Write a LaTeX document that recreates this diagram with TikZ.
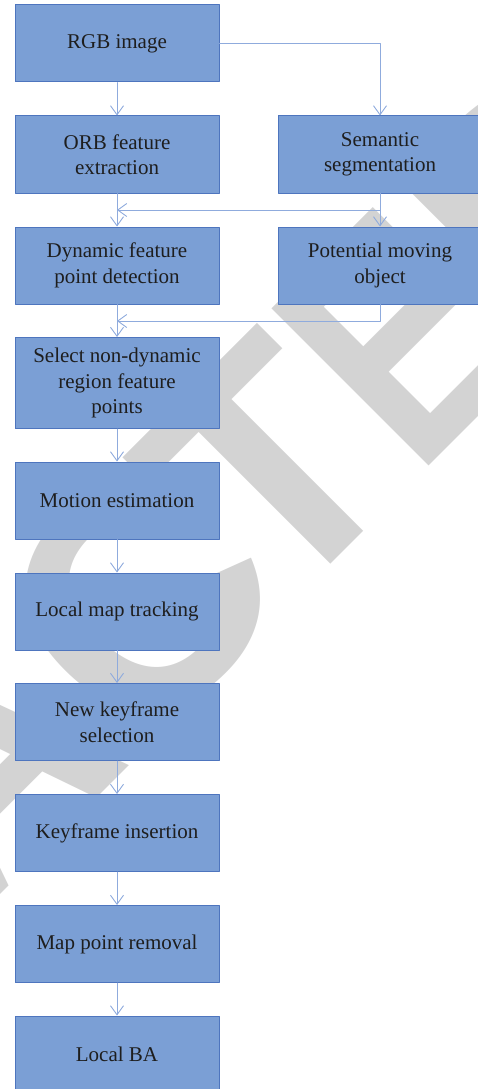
\documentclass[tikz,border=0pt]{standalone}
\usepackage{graphicx}
\usepackage{fontspec}
\setmainfont{Liberation Serif}
\newfontfamily\wmfont[Kerning=Off]{Liberation Sans}
\usetikzlibrary{arrows.meta}

\definecolor{boxfill}{RGB}{123,159,213}
\definecolor{boxline}{RGB}{78,117,190}
\definecolor{flowline}{RGB}{143,171,221}
\definecolor{wmgray}{RGB}{211,211,211}
\definecolor{txt}{RGB}{30,30,30}

\tikzset{
	stepbox/.style={draw=boxline, fill=boxfill, line width=1pt, minimum width=204pt,
		minimum height=77pt, inner sep=0pt, align=center, text=txt,
		font=\fontsize{21}{25.5}\selectfont},
	flow/.style={draw=flowline, line width=0.9pt,
		-{Straight Barb[length=9pt, width=13pt]}},
}

\begin{document}
\begin{tikzpicture}[x=1pt, y=1pt, line cap=round, line join=round]
	\useasboundingbox (0,0) rectangle (477,-1089);

	% Wasserzeichen
	\begin{scope}
		\clip (0,0) rectangle (477,-1089);
		\node[rotate=45, anchor=base west, inner sep=0pt, text=wmgray,
			font=\wmfont\bfseries\fontsize{323}{323}\selectfont] (wm) at (-651.2,-1546.2)
			{RETRAC\kern-33pt T\scalebox{0.82}[1]{E}D};
	\end{scope}

	% linke Spalte
	\node[stepbox] (rgb) at (117,-43.5) {RGB image};
	\node[stepbox] (orb) at (117,-154.5) {ORB feature\\extraction};
	\node[stepbox] (dyn) at (117,-265.5) {Dynamic feature\\point detection};
	\node[stepbox, minimum height=91pt] (sel) at (117,-383) {Select non-dynamic\\region feature\\points};
	\node[stepbox] (mot) at (117,-500.5) {Motion estimation};
	\node[stepbox] (lmt) at (117,-611.5) {Local map tracking};
	\node[stepbox] (nkf) at (117,-722) {New keyframe\\selection};
	\node[stepbox] (kfi) at (117,-833) {Keyframe insertion};
	\node[stepbox] (mpr) at (117,-944) {Map point removal};
	\node[stepbox] (lba) at (117,-1054.5) {Local BA};

	% rechte Spalte
	\node[stepbox] (sem) at (380,-154.5) {Semantic\\segmentation};
	\node[stepbox] (pot) at (380,-265.5) {Potential moving\\object};

	% Einmündungen
	\coordinate (m1) at (117,-210);
	\coordinate (m2) at (117,-321);

	% Pfeile
	\foreach \a/\b in {rgb/orb, orb/dyn, dyn/sel, sel/mot, mot/lmt, lmt/nkf, nkf/kfi, kfi/mpr, mpr/lba}
		\draw[flow] (\a) -- (\b);
	\draw[flow] (rgb.east) -| (sem.north);
	\draw[flow] (sem) -- (pot);
	\draw[flow] (sem.south) |- (m1);
	\draw[flow] (pot.south) |- (m2);
\end{tikzpicture}
\end{document}
